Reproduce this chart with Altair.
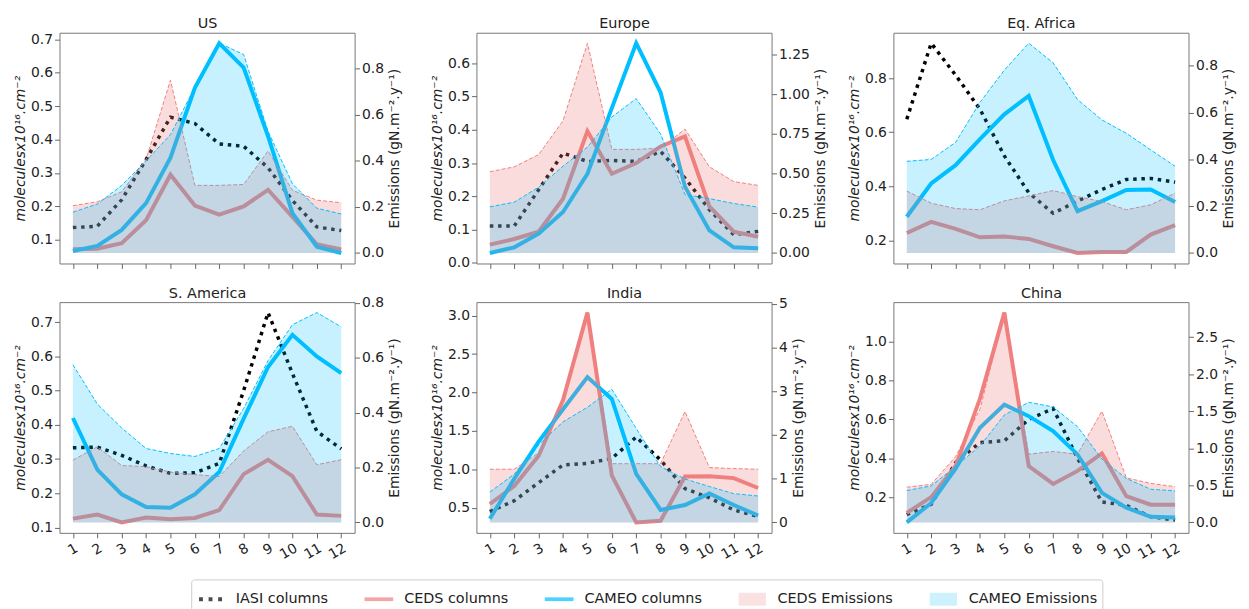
import altair as alt
import pandas as pd

FONT = "DejaVu Sans"
MONTHS = list(range(1, 13))

# ---- US ----
US_IASI = [0.137, 0.141, 0.22, 0.34, 0.467, 0.448, 0.387, 0.38, 0.316, 0.218, 0.139, 0.128]
US_CEDS = [0.072, 0.074, 0.09, 0.159, 0.295, 0.203, 0.176, 0.20, 0.25, 0.169, 0.087, 0.072]
US_CAMEO = [0.067, 0.082, 0.13, 0.21, 0.346, 0.555, 0.688, 0.615, 0.41, 0.18, 0.08, 0.061]
US_CEDS_E = [0.205, 0.222, 0.265, 0.406, 0.749, 0.293, 0.293, 0.297, 0.442, 0.272, 0.229, 0.218]
US_CAMEO_E = [0.177, 0.212, 0.293, 0.399, 0.513, 0.718, 0.909, 0.86, 0.527, 0.30, 0.194, 0.169]

# ---- Europe ----
EU_IASI = [0.111, 0.111, 0.22, 0.33, 0.305, 0.308, 0.305, 0.335, 0.255, 0.16, 0.085, 0.095]
EU_CEDS = [0.055, 0.072, 0.094, 0.193, 0.396, 0.268, 0.30, 0.35, 0.38, 0.17, 0.094, 0.079]
EU_CAMEO = [0.03, 0.047, 0.088, 0.153, 0.268, 0.465, 0.66, 0.512, 0.229, 0.098, 0.047, 0.044]
EU_CEDS_E = [0.512, 0.543, 0.62, 0.833, 1.322, 0.653, 0.653, 0.661, 0.781, 0.543, 0.45, 0.426]
EU_CAMEO_E = [0.291, 0.32, 0.415, 0.547, 0.667, 0.857, 0.973, 0.75, 0.368, 0.343, 0.312, 0.289]

# ---- Eq. Africa ----
AF_IASI = [0.648, 0.929, 0.811, 0.685, 0.512, 0.376, 0.30, 0.345, 0.388, 0.425, 0.429, 0.415]
AF_CEDS = [0.227, 0.268, 0.242, 0.211, 0.214, 0.205, 0.178, 0.153, 0.157, 0.157, 0.221, 0.256]
AF_CAMEO = [0.287, 0.41, 0.478, 0.574, 0.666, 0.734, 0.497, 0.308, 0.345, 0.386, 0.388, 0.342]
AF_CEDS_E = [0.265, 0.213, 0.19, 0.185, 0.223, 0.244, 0.267, 0.241, 0.22, 0.185, 0.206, 0.256]
AF_CAMEO_E = [0.392, 0.40, 0.473, 0.644, 0.782, 0.897, 0.813, 0.656, 0.569, 0.512, 0.441, 0.371]

# ---- S. America ----
SA_IASI = [0.333, 0.335, 0.311, 0.28, 0.258, 0.26, 0.287, 0.50, 0.728, 0.55, 0.381, 0.33]
SA_CEDS = [0.126, 0.138, 0.115, 0.129, 0.124, 0.128, 0.151, 0.256, 0.298, 0.25, 0.138, 0.134]
SA_CAMEO = [0.42, 0.269, 0.197, 0.16, 0.158, 0.197, 0.262, 0.418, 0.569, 0.663, 0.6, 0.551]
SA_CEDS_E = [0.227, 0.275, 0.207, 0.203, 0.183, 0.174, 0.167, 0.26, 0.33, 0.35, 0.21, 0.228]
SA_CAMEO_E = [0.574, 0.431, 0.344, 0.269, 0.251, 0.24, 0.269, 0.415, 0.589, 0.72, 0.764, 0.712]

# ---- India ----
IN_IASI = [0.449, 0.59, 0.825, 1.056, 1.077, 1.141, 1.419, 1.12, 0.748, 0.628, 0.47, 0.385]
IN_CEDS = [0.547, 0.782, 1.175, 1.9, 3.04, 0.919, 0.308, 0.329, 0.906, 0.91, 0.885, 0.756]
IN_CAMEO = [0.355, 0.876, 1.359, 1.782, 2.2, 1.915, 0.94, 0.47, 0.534, 0.684, 0.534, 0.397]
IN_CEDS_E = [1.216, 1.216, 1.59, 2.78, 4.8, 1.343, 1.343, 1.343, 2.537, 1.254, 1.231, 1.216]
IN_CAMEO_E = [0.694, 1.104, 1.776, 2.3, 2.634, 3.045, 2.149, 1.276, 0.993, 0.821, 0.657, 0.604]

# ---- China ----
CN_IASI = [0.11, 0.163, 0.378, 0.481, 0.49, 0.60, 0.656, 0.40, 0.175, 0.158, 0.099, 0.082]
CN_CEDS = [0.119, 0.2, 0.36, 0.707, 1.15, 0.36, 0.268, 0.335, 0.425, 0.205, 0.161, 0.161]
CN_CAMEO = [0.07, 0.17, 0.347, 0.557, 0.676, 0.617, 0.54, 0.42, 0.222, 0.146, 0.099, 0.095]
CN_CEDS_E = [0.474, 0.513, 0.886, 1.526, 2.83, 0.921, 0.956, 0.921, 1.5, 0.601, 0.526, 0.482]
CN_CAMEO_E = [0.43, 0.491, 0.754, 1.03, 1.45, 1.62, 1.557, 1.29, 0.855, 0.592, 0.447, 0.425]

# ---- tick labels ----
US_LTICKS = [0.1, 0.2, 0.3, 0.4, 0.5, 0.6, 0.7]
US_RTICKS = [0.0, 0.2, 0.4, 0.6, 0.8]
EU_LTICKS = [0.0, 0.1, 0.2, 0.3, 0.4, 0.5, 0.6]
EU_RTICKS = [0.0, 0.25, 0.5, 0.75, 1.0, 1.25]
AF_LTICKS = [0.2, 0.4, 0.6, 0.8]
AF_RTICKS = [0.0, 0.2, 0.4, 0.6, 0.8]
SA_LTICKS = [0.1, 0.2, 0.3, 0.4, 0.5, 0.6, 0.7]
SA_RTICKS = [0.0, 0.2, 0.4, 0.6, 0.8]
IN_LTICKS = [0.5, 1.0, 1.5, 2.0, 2.5, 3.0]
IN_RTICKS = [0, 1, 2, 3, 4, 5]
CN_LTICKS = [0.2, 0.4, 0.6, 0.8, 1.0]
CN_RTICKS = [0.0, 0.5, 1.0, 1.5, 2.0, 2.5]

LEGEND_LABELS = ["IASI columns", "CEDS columns", "CAMEO columns", "CEDS Emissions", "CAMEO Emissions"]
LEGEND_COLORS = ["#000000", "#F08080", "#00BFFF", "#F8D5D5", "#B8EBFC"]
DOTS = ("M-0.8,-0.13h0.27v0.27h-0.27z M-0.135,-0.13h0.27v0.27h-0.27z "
        "M0.53,-0.13h0.27v0.27h-0.27z")
BAR = "M-1,-0.13H1V0.13H-1Z"
PATCH = "M-0.95,-0.45H0.95V0.45H-0.95Z"
LEGEND_SHAPES = [DOTS, BAR, BAR, PATCH, PATCH]

LEFT_TITLE = "moleculesx10\u00b9\u2076.cm\u207b\u00b2"
RIGHT_TITLE = "Emissions (gN.m\u207b\u00b2.y\u207b\u00b9)"

PANELS = [
    ("US", US_IASI, US_CEDS, US_CAMEO, US_CEDS_E, US_CAMEO_E, US_LTICKS, ".1f", US_RTICKS, ".1f"),
    ("Europe", EU_IASI, EU_CEDS, EU_CAMEO, EU_CEDS_E, EU_CAMEO_E, EU_LTICKS, ".1f", EU_RTICKS, ".2f"),
    ("Eq. Africa", AF_IASI, AF_CEDS, AF_CAMEO, AF_CEDS_E, AF_CAMEO_E, AF_LTICKS, ".1f", AF_RTICKS, ".1f"),
    ("S. America", SA_IASI, SA_CEDS, SA_CAMEO, SA_CEDS_E, SA_CAMEO_E, SA_LTICKS, ".1f", SA_RTICKS, ".1f"),
    ("India", IN_IASI, IN_CEDS, IN_CAMEO, IN_CEDS_E, IN_CAMEO_E, IN_LTICKS, ".1f", IN_RTICKS, "d"),
    ("China", CN_IASI, CN_CEDS, CN_CAMEO, CN_CEDS_E, CN_CAMEO_E, CN_LTICKS, ".1f", CN_RTICKS, ".1f"),
]

RED = "#F08080"
BLUE = "#00BFFF"
XDOMAIN = [0.45, 12.55]


def make_panel(i, name, iasi, ceds, cameo, ceds_e, cameo_e, lt, lf, rt, rf):
    bottom = i >= 3
    rows = []
    for key, vals in (("IASI", iasi), ("CEDS", ceds), ("CAMEO", cameo),
                      ("CEDS_E", ceds_e), ("CAMEO_E", cameo_e)):
        for m, v in zip(MONTHS, vals):
            rows.append({"month": m, "key": key, "value": v})
    df = pd.DataFrame(rows)

    lo = min(iasi + ceds + cameo)
    hi = max(iasi + ceds + cameo)
    pad = 0.05 * (hi - lo)
    rhi = max(ceds_e + cameo_e)
    rpad = 0.05 * rhi

    x = alt.X("month:Q",
              scale=alt.Scale(domain=XDOMAIN, nice=False, zero=False),
              axis=alt.Axis(values=MONTHS, title=None, labels=bottom, labelAngle=-30,
                            labelAlign="right", labelBaseline="top", format="d",
                            grid=False, domain=False, tickSize=5, labelPadding=3,
                            labelFontSize=14))
    yl = alt.Y("value:Q",
               scale=alt.Scale(domain=[lo - pad, hi + pad], nice=False, zero=False),
               axis=alt.Axis(values=lt, format=lf, title=LEFT_TITLE, titleFontStyle="italic",
                             grid=False, domain=False, tickSize=5, titlePadding=3))
    yr = alt.Y("value:Q",
               scale=alt.Scale(domain=[-rpad, rhi + rpad], nice=False, zero=False),
               axis=alt.Axis(values=rt, format=rf, title=RIGHT_TITLE, titleAngle=270,
                             titleBaseline="top", grid=False, domain=False, tickSize=5,
                             orient="right", titlePadding=4))

    base = alt.Chart(df)

    def sel(k):
        return base.transform_filter(alt.datum.key == k)

    left = [
        sel("IASI").mark_line(color="black", strokeWidth=3.5, strokeDash=[3.5, 4.8],
                              strokeCap="butt").encode(x=x, y=yl),
        sel("CEDS").mark_line(color=RED, strokeWidth=4).encode(x=x, y=yl),
        sel("CAMEO").mark_line(color=BLUE, strokeWidth=4).encode(x=x, y=yl),
    ]
    if i == 0:
        leg = alt.Legend(title=None, orient="none", legendX=133, legendY=552,
                         direction="horizontal", columns=5, symbolSize=841,
                         labelFontSize=14.5, labelFont=FONT, labelOffset=11, columnPadding=36)
        left.append(
            base.transform_filter("false").mark_point(filled=True, size=841).encode(
                x=x, y=yl,
                color=alt.Color("key:N", scale=alt.Scale(domain=LEGEND_LABELS, range=LEGEND_COLORS),
                                legend=leg),
                shape=alt.Shape("key:N", scale=alt.Scale(domain=LEGEND_LABELS, range=LEGEND_SHAPES),
                                legend=leg),
            )
        )
    right = [
        sel("CEDS_E").mark_area(color=RED, opacity=0.28).encode(x=x, y=yr, y2=alt.datum(0)),
        sel("CEDS_E").mark_line(color=RED, strokeWidth=1, strokeDash=[4, 2]).encode(x=x, y=yr),
        sel("CAMEO_E").mark_area(color=BLUE, opacity=0.22).encode(x=x, y=yr, y2=alt.datum(0)),
        sel("CAMEO_E").mark_line(color=BLUE, strokeWidth=1, strokeDash=[4, 2]).encode(x=x, y=yr),
    ]
    core = alt.layer(alt.layer(*left), alt.layer(*right)).resolve_scale(y="independent")

    # panel title drawn as a top axis title so that it sits at a fixed distance from the frame
    title_layer = base.transform_filter("false").mark_point().encode(
        x=alt.X("month:Q", scale=alt.Scale(domain=XDOMAIN, nice=False, zero=False),
                axis=alt.Axis(orient="top", title=name, labels=False, ticks=False, domain=False,
                              grid=False, titlePadding=2, titleFontSize=14.5,
                              titleFontWeight="normal")),
        y=alt.Y("value:Q", axis=None, scale=alt.Scale(domain=[0, 1])),
    )
    return (alt.layer(core, title_layer)
            .resolve_scale(x="independent", y="independent")
            .properties(width=298, height=233))


panels = [make_panel(i, *p) for i, p in enumerate(PANELS)]

chart = (
    alt.concat(*panels, columns=3, spacing={"row": 39, "column": 123}, bounds="flush")
    .properties(padding={"left": 5, "top": 4, "right": 5, "bottom": 5})
    .configure_view(stroke="#777", strokeWidth=1)
    .configure_axis(labelFont=FONT, titleFont=FONT, labelFontSize=14, titleFontSize=14,
                    titleFontWeight="normal", labelColor="#222", titleColor="#222",
                    tickColor="#666", tickWidth=1, labelPadding=2)
    .configure_legend(labelFont=FONT, labelFontSize=14.5, labelColor="#222", padding=5,
                      strokeColor="#cccccc", cornerRadius=3, fillColor="white",
                      symbolStrokeWidth=0, labelOffset=11, columnPadding=36, symbolSize=841)
)

chart.save("out.html", embed_options={"renderer": "svg", "actions": False})
